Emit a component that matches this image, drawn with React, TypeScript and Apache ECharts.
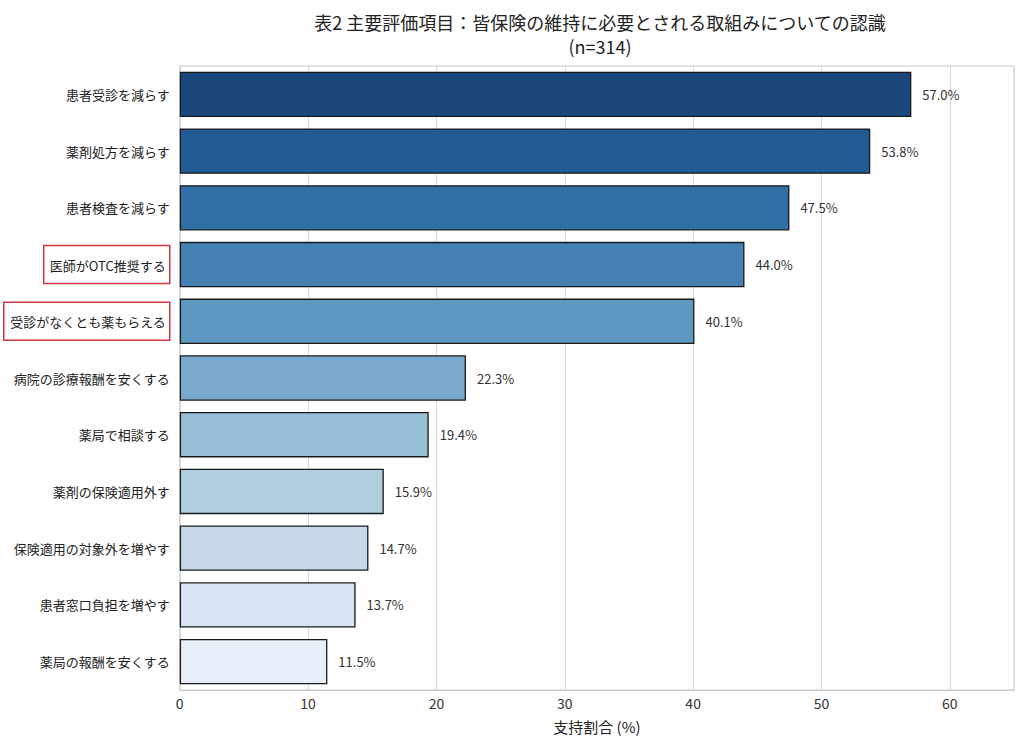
import React, { useEffect, useRef } from "react";
import * as echarts from "echarts";

const categories = [
  "患者受診を減らす",
  "薬剤処方を減らす",
  "患者検査を減らす",
  "医師がOTC推奨する",
  "受診がなくとも薬もらえる",
  "病院の診療報酬を安くする",
  "薬局で相談する",
  "薬剤の保険適用外す",
  "保険適用の対象外を増やす",
  "患者窓口負担を増やす",
  "薬局の報酬を安くする",
];
const values = [57.0, 53.8, 47.5, 44.0, 40.1, 22.3, 19.4, 15.9, 14.7, 13.7, 11.5];
const barColors = [
  "#1b477c",
  "#225b94",
  "#316ea5",
  "#4581b2",
  "#5e98c0",
  "#79aacd",
  "#97bfd6",
  "#b1cde0",
  "#c7d8e8",
  "#d8e4f1",
  "#e7eef7",
];
const highlighted = ["医師がOTC推奨する", "受診がなくとも薬もらえる"];
const titleText = "表2 主要評価項目：皆保険の維持に必要とされる取組みについての認識\n(n=314)";
const xAxisName = "支持割合 (%)";

const FONT = "'Noto Sans CJK JP', 'Noto Sans', sans-serif";

export default function App() {
  const ref = useRef<HTMLDivElement>(null);
  useEffect(() => {
    document.body.style.margin = "0";
    const chart = echarts.init(ref.current!, null, { renderer: "svg" });
    chart.setOption({
      animation: false,
      textStyle: { fontFamily: FONT },
      title: {
        text: titleText,
        left: 595,
        textAlign: "center",
        top: 5,
        textStyle: {
          fontFamily: FONT,
          fontSize: 18,
          fontWeight: "normal",
          color: "#222",
          lineHeight: 24,
        },
      },
      grid: {
        left: 175,
        right: 10,
        top: 66,
        bottom: 51,
        show: true,
        borderColor: "#cccccc",
        borderWidth: 1,
        containLabel: false,
      },
      xAxis: {
        type: "value",
        min: 0,
        max: 65,
        interval: 10,
        name: xAxisName,
        nameLocation: "middle",
        nameGap: 29,
        nameTextStyle: { fontFamily: FONT, fontSize: 15, color: "#222" },
        axisLine: { show: true, lineStyle: { color: "#cccccc" } },
        axisTick: { show: false },
        axisLabel: {
          fontFamily: FONT,
          fontSize: 14,
          color: "#333",
          margin: 6,
          showMaxLabel: false,
        },
        splitLine: { show: true, lineStyle: { color: "#d9d9d9", width: 1 } },
      },
      yAxis: {
        type: "category",
        data: categories,
        inverse: true,
        axisLine: { show: false },
        axisTick: { show: false },
        splitLine: { show: false },
        axisLabel: {
          fontFamily: FONT,
          fontSize: 13,
          color: "#222",
          margin: 10,
          formatter: (v: string) =>
            highlighted.includes(v) ? `{box|${v}}` : v,
          rich: {
            box: {
              fontFamily: FONT,
              fontSize: 13,
              color: "#222",
              borderColor: "#d0343f",
              borderWidth: 1.5,
              padding: [13, 4, 12, 6],
            },
          },
        },
      },
      series: [
        {
          type: "bar",
          data: values.map((v, i) => ({
            value: v,
            itemStyle: { color: barColors[i] },
          })),
          barCategoryGap: "20%",
          itemStyle: { borderColor: "#1a1a1a", borderWidth: 1.3 },
          label: {
            show: true,
            position: "right",
            distance: 11,
            fontFamily: FONT,
            fontSize: 13,
            color: "#333",
            formatter: (p: any) => `${Number(p.value).toFixed(1)}%`,
          },
        },
      ],
    });
    return () => chart.dispose();
  }, []);
  return <div ref={ref} style={{ width: 1024, height: 741 }} />;
}
